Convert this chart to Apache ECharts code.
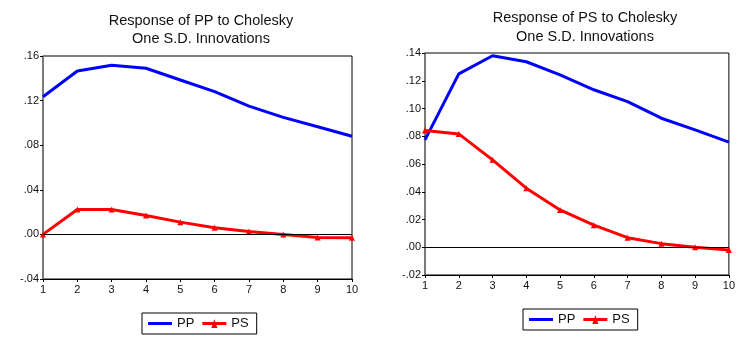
<!DOCTYPE html>
<html>
<head>
<meta charset="utf-8">
<script src="https://cdn.jsdelivr.net/npm/echarts@6/dist/echarts.min.js"></script>
<style>
  html, body { margin: 0; padding: 0; background: #fff; }
  #chart { width: 738px; height: 342px; }
</style>
</head>
<body>
<div id="chart"></div>
<script>
// 期数 1..10
const steps = ['1', '2', '3', '4', '5', '6', '7', '8', '9', '10'];

// 左图：PP 对冲击的响应
const ppResponsePP = [0.1235, 0.1465, 0.1517, 0.149, 0.1385, 0.128, 0.115, 0.105, 0.0966, 0.088];
const ppResponsePS = [0.0, 0.0224, 0.0224, 0.017, 0.011, 0.006, 0.0027, 0.0, -0.0027, -0.003];

// 右图：PS 对冲击的响应
const psResponsePP = [0.0774, 0.125, 0.138, 0.1337, 0.1243, 0.1135, 0.105, 0.093, 0.0846, 0.0757];
const psResponsePS = [0.0841, 0.0817, 0.063, 0.0426, 0.0269, 0.0159, 0.0069, 0.0026, 0.0, -0.002];

const titles = ['Response of PP to Cholesky\nOne S.D. Innovations', 'Response of PS to Cholesky\nOne S.D. Innovations'];

const fontFamily = '"Liberation Sans", Arial, sans-serif';

// 图例图标：纯线 / 线+三角
const iconLine = 'path://M0,4 L24,4 L24,7 L0,7 Z';
const iconTri = 'path://M0,4 L24,4 L24,7 L0,7 Z M9,10 L12,1 L15,10 Z';

// .16 / -.04 这种写法
function fmt(v) {
    const s = Math.abs(v).toFixed(2).replace(/^0/, '');
    return (v < -1e-9 ? '-' : '') + s;
}

function xAxisOf(gridIndex) {
    return {
        type: 'category', gridIndex, data: steps, boundaryGap: false,
        axisLine: { onZero: false, lineStyle: { color: '#000', width: 1 } },
        axisTick: { alignWithLabel: true, length: 3, lineStyle: { color: '#000' } },
        axisLabel: { color: '#111', fontSize: 11, fontFamily, margin: 5 },
        splitLine: { show: false }
    };
}

function yAxisOf(gridIndex, min, max, interval) {
    return {
        type: 'value', gridIndex, min, max, interval,
        axisLine: { show: true, lineStyle: { color: '#777', width: 1.5 } },
        axisTick: { show: true, length: 3, lineStyle: { color: '#000' } },
        axisLabel: { color: '#111', fontSize: 11, fontFamily, margin: 4, formatter: fmt },
        splitLine: { show: false }
    };
}

function ppSeries(idx, data) {
    return {
        name: 'PP', type: 'line', xAxisIndex: idx, yAxisIndex: idx, data,
        symbol: 'none', lineStyle: { color: '#0000ff', width: 3 },
        itemStyle: { color: '#0000ff' }, z: 3,
        markLine: {
            silent: true, symbol: 'none', label: { show: false },
            lineStyle: { color: '#000', width: 1, type: 'solid' },
            data: [{ yAxis: 0 }]
        }
    };
}

function psSeries(idx, data) {
    return {
        name: 'PS', type: 'line', xAxisIndex: idx, yAxisIndex: idx, data,
        symbol: 'triangle', symbolSize: 6, showSymbol: true,
        lineStyle: { color: '#ff0000', width: 3 },
        itemStyle: { color: '#ff0000' }, z: 4
    };
}

function legendOf(left, top) {
    return {
        data: [{ name: 'PP', icon: iconLine }, { name: 'PS', icon: iconTri }],
        left, top, orient: 'horizontal',
        borderColor: '#000', borderWidth: 1, padding: [4, 8, 4, 6],
        itemWidth: 24, itemHeight: 11, itemGap: 8,
        textStyle: { color: '#111', fontSize: 13, fontFamily }
    };
}

const chart = echarts.init(document.getElementById('chart'), null, { renderer: 'canvas' });

chart.setOption({
    animation: false,
    backgroundColor: '#fff',
    title: [
        { text: titles[0], left: 196, top: 7, textAlign: 'center',
          textStyle: { fontSize: 14.5, fontWeight: 'normal', color: '#111', fontFamily, lineHeight: 18 } },
        { text: titles[1], left: 580, top: 3, textAlign: 'center',
          textStyle: { fontSize: 14.5, fontWeight: 'normal', color: '#111', fontFamily, lineHeight: 19 } }
    ],
    legend: [legendOf(142, 313), legendOf(523, 309)],
    grid: [
        { left: 43, right: 386, top: 56, bottom: 63, show: true, borderColor: '#000', borderWidth: 1 },
        { left: 425, right: 5, top: 53, bottom: 67, show: true, borderColor: '#000', borderWidth: 1 }
    ],
    xAxis: [xAxisOf(0), xAxisOf(1)],
    yAxis: [yAxisOf(0, -0.04, 0.16, 0.04), yAxisOf(1, -0.02, 0.14, 0.02)],
    series: [
        ppSeries(0, ppResponsePP),
        psSeries(0, ppResponsePS),
        ppSeries(1, psResponsePP),
        psSeries(1, psResponsePS)
    ]
});
</script>
</body>
</html>
